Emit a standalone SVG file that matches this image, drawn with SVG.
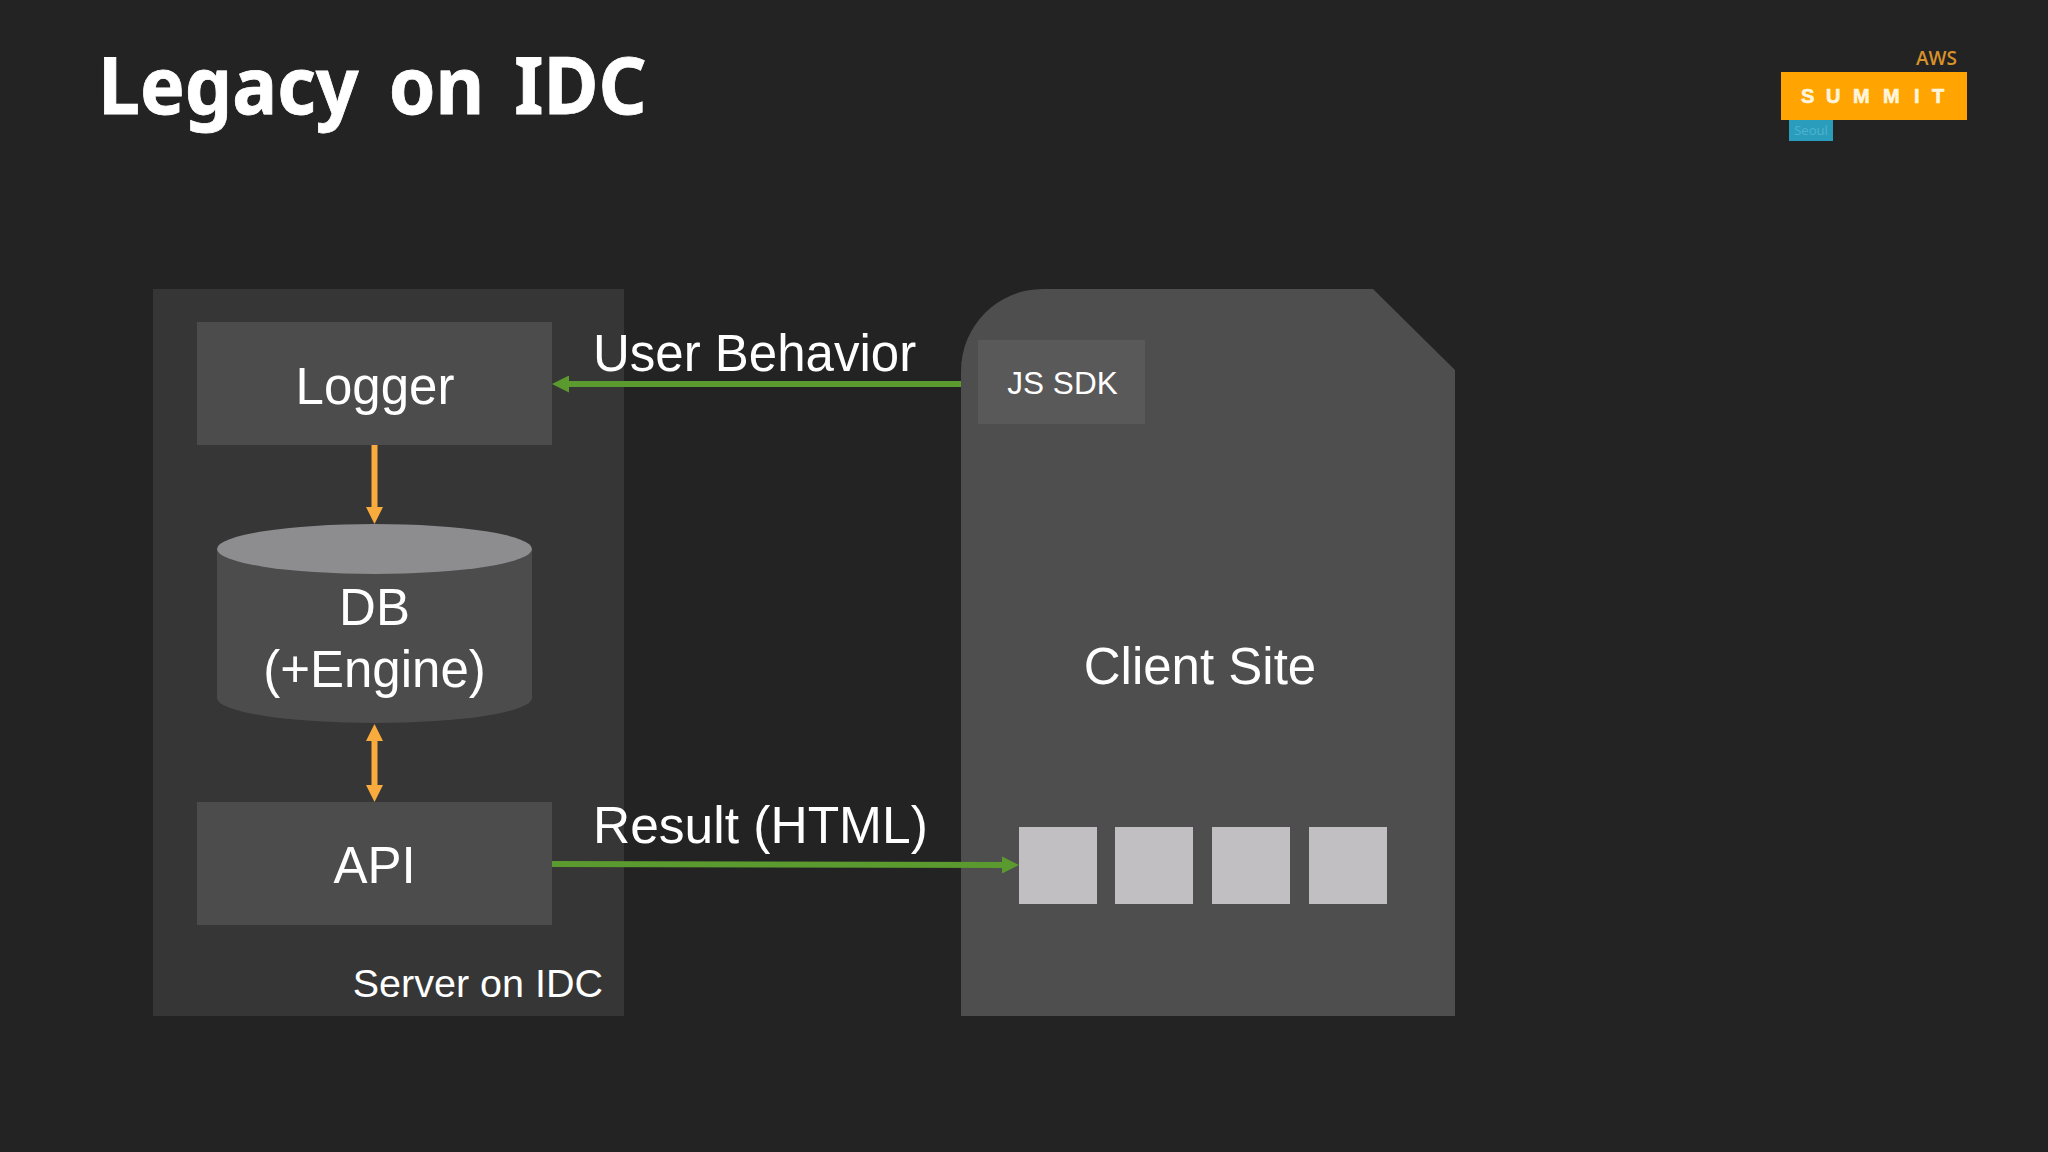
<svg xmlns="http://www.w3.org/2000/svg" width="2048" height="1152" viewBox="0 0 2048 1152">
<style>
text{font-family:"Liberation Sans",Arial,sans-serif;fill:#fff}
.m{text-anchor:middle}
.box{fill:#4c4c4d}
.sq{fill:#c1bfc2}
.g{stroke:#5b9a2e;stroke-width:6;fill:none}
.o{stroke:#f9ac3d;stroke-width:6;fill:none}
</style>
<defs>
<marker id="ag" markerUnits="userSpaceOnUse" markerWidth="17" markerHeight="17" refX="7" refY="8.500" orient="auto-start-reverse"><path d="M0 0L17 8.500L0 17Z" fill="#5b9a2e"/></marker>
<marker id="ao" markerUnits="userSpaceOnUse" markerWidth="17" markerHeight="17" refX="7" refY="8.500" orient="auto-start-reverse"><path d="M0 0L17 8.500L0 17Z" fill="#f9ac3d"/></marker>
</defs>
<rect width="2048" height="1152" fill="#232324"/>
<text transform="translate(98 114) scale(.95 1)" style="font-family:'Noto Sans',sans-serif;font-weight:700" font-size="79" word-spacing="11" stroke="#fff" stroke-width=".8">Legacy on IDC</text>
<g id="logo">
<text x="1957" y="65" text-anchor="end" font-size="19" font-weight="600" style="font-family:'Open Sans',sans-serif;fill:#d8922a">AWS</text>
<rect x="1781" y="72" width="186" height="48" fill="#ffa400"/>
<rect x="1789" y="120" width="44" height="21" fill="#2a9dbd"/>
<text x="1811" y="135" class="m" font-size="13" style="font-family:'Open Sans',sans-serif;fill:#4fb3cf">Seoul</text>
<text x="1801 1826 1853 1883 1914 1932" y="103" font-size="20" font-weight="700" stroke="#fff4dc" stroke-width=".7" style="fill:#fff4dc">SUMMIT</text>
</g>
<g id="server">
<rect x="153" y="289" width="471" height="727" fill="#363637"/>
<text x="603" y="997" text-anchor="end" font-size="39.500">Server on IDC</text>
</g>
<g id="client">
<path d="M1043 289H1373L1455 370V1016H961V371A82 82 0 0 1 1043 289Z" fill="#4e4e4f"/>
<text x="1200" y="684" class="m" font-size="51">Client Site</text>
</g>
<g id="js-sdk">
<rect x="978" y="340" width="167" height="84" fill="#59595a"/>
<text x="1062.500" y="394" class="m" font-size="31.500">JS SDK</text>
</g>
<g id="logger">
<rect class="box" x="197" y="322" width="355" height="123"/>
<text x="375" y="404" class="m" font-size="51">Logger</text>
</g>
<g id="db">
<path class="box" d="M217 549V698A157.500 25 0 0 0 532 698V549Z"/>
<ellipse cx="374.500" cy="549" rx="157.500" ry="25" fill="#8d8c8f"/>
<text x="374.500" y="625" class="m" font-size="51">DB</text>
<text x="374.500" y="687" class="m" font-size="51">(+Engine)</text>
</g>
<g id="api">
<rect class="box" x="197" y="802" width="355" height="123"/>
<text x="374.500" y="883" class="m" font-size="51">API</text>
</g>
<g id="sq1"><rect class="sq" x="1019" y="827" width="78" height="77"/></g>
<g id="sq2"><rect class="sq" x="1115" y="827" width="78" height="77"/></g>
<g id="sq3"><rect class="sq" x="1212" y="827" width="78" height="77"/></g>
<g id="sq4"><rect class="sq" x="1309" y="827" width="78" height="77"/></g>
<g id="connectors">
<path class="g" d="M961 384H562" marker-end="url(#ag)"/>
<path class="g" d="M552 864L1009 865" marker-end="url(#ag)"/>
<path class="o" d="M374.500 445V514" marker-end="url(#ao)"/>
<path class="o" d="M374.500 734V792" marker-start="url(#ao)" marker-end="url(#ao)"/>
</g>
<text x="593" y="371" font-size="51">User Behavior</text>
<text x="593" y="843" font-size="51.500">Result (HTML)</text>
</svg>
